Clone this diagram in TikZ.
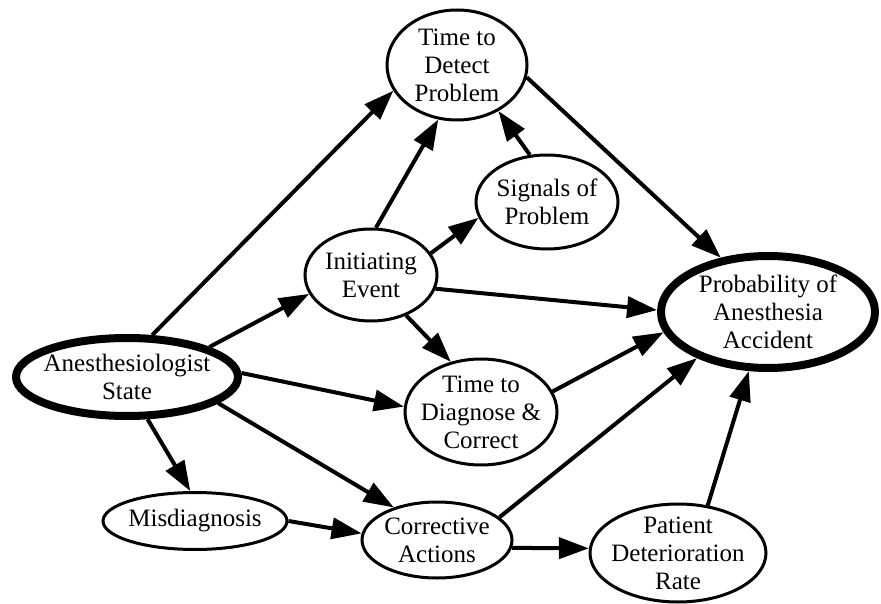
\documentclass[tikz,border=0pt]{standalone}
\usepackage{fontspec}
\setmainfont{Liberation Serif}
\usetikzlibrary{arrows.meta,shapes.geometric}
\begin{document}
\begin{tikzpicture}[x=1pt,y=-1pt,
  var/.style={ellipse, draw, line width=3pt, inner sep=0pt},
  keyvar/.style={var, line width=8pt},
  lbl/.style={align=center, font=\fontsize{25}{28}\selectfont, inner sep=0pt},
  influence/.style={line width=4pt, -{Triangle[length=30pt,width=21pt]}}]
\useasboundingbox (0,0) rectangle (881,604);

% chance variables of the influence diagram
\node[var, minimum width=140pt, minimum height=110pt,
      label={[lbl]center:Time to\\Detect\\Problem}] (detect) at (457,65) {};
\node[var, minimum width=142pt, minimum height=94pt,
      label={[lbl]center:Signals of\\Problem}] (signals) at (547,202) {};
\node[var, minimum width=132pt, minimum height=92pt,
      label={[lbl]center:Initiating\\Event}] (init) at (371,275) {};
\node[keyvar, minimum width=214pt, minimum height=112pt,
      label={[lbl]center:Probability of\\Anesthesia\\Accident}] (prob) at (768,312) {};
\node[keyvar, minimum width=222pt, minimum height=78pt,
      label={[lbl]center:Anesthesiologist\\State}] (anes) at (127,377) {};
\node[var, minimum width=152pt, minimum height=106pt,
      label={[lbl]center:Time to\\Diagnose \&\\Correct}] (diag) at (481,412) {};
\node[var, minimum width=184pt, minimum height=57pt,
      label={[lbl]center:Misdiagnosis}] (misd) at (195,521) {};
\node[var, minimum width=150pt, minimum height=76pt,
      label={[lbl]center:Corrective\\Actions}] (corr) at (437,540) {};
\node[var, minimum width=176pt, minimum height=98pt,
      label={[lbl]center:Patient\\Deterioration\\Rate}] (pat) at (678,553) {};

% influences
\draw[influence] (anes.59)   -- (detect.202);
\draw[influence] (anes.20)   -- (init.197);
\draw[influence] (anes.2)    -- (diag.176);
\draw[influence] (anes.-16)  -- (corr.143);
\draw[influence] (anes.-64)  -- (misd.99);
\draw[influence] (init.84)   -- (detect.251);
\draw[influence] (init.20)   -- (signals.193);
\draw[influence] (init.-12)  -- (prob.179);
\draw[influence] (init.-49)  -- (diag.121);
\draw[influence] (signals.110) -- (detect.312);
\draw[influence] (detect.-10) -- (prob.131);
\draw[influence] (diag.16)   -- (prob.191);
\draw[influence] (corr.20)   -- (prob.213);
\draw[influence] (misd.0)    -- (corr.175);
\draw[influence] (corr.-6)   -- (pat.177);
\draw[influence] (pat.58)    -- (prob.252);
\end{tikzpicture}
\end{document}
